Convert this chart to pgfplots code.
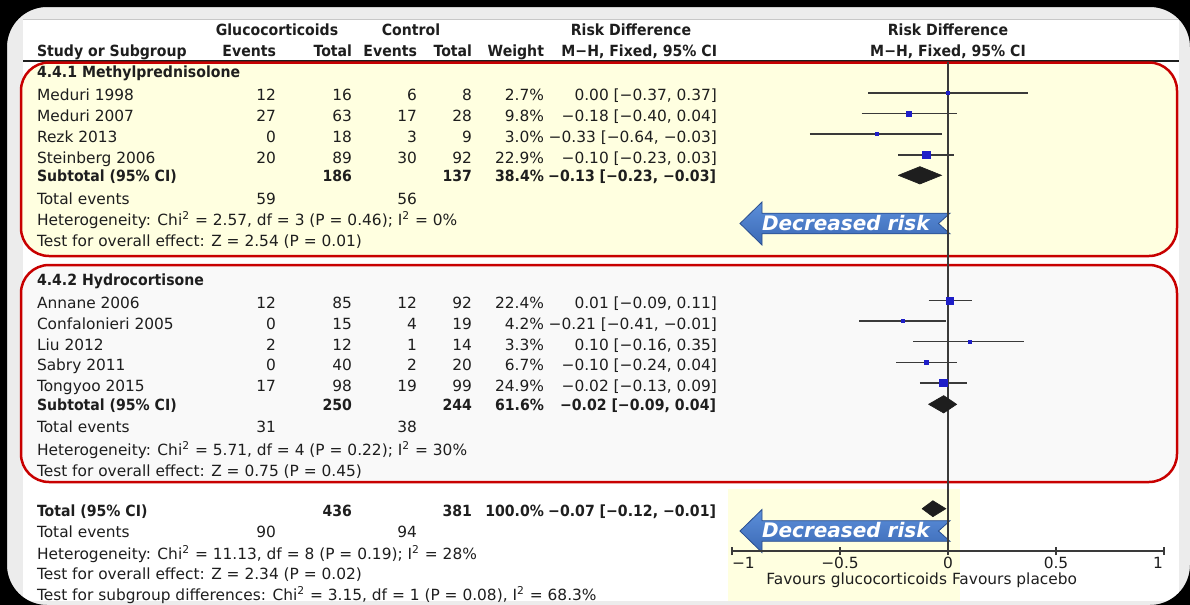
\documentclass[border=0pt]{standalone}
\usepackage{pgfplots}
\pgfplotsset{compat=1.18}
\usepackage{pgfplotstable}
\usepackage{fontspec}
\setmainfont{DejaVu Sans}[BoldFeatures={FakeStretch=0.915}]
\newfontfamily\arrowfont{DejaVu Sans}[BoldItalicFont={DejaVu Sans Bold Oblique}]
\definecolor{framegrey}{HTML}{ECECEC}
\definecolor{pyellow}{HTML}{FFFFE0}
\definecolor{pgrey}{HTML}{F9F9F9}
\definecolor{pred}{HTML}{C80000}
\definecolor{ink}{HTML}{1E1E1E}
\definecolor{ciline}{HTML}{3A3A3A}
\definecolor{sqblue}{HTML}{1E1EC8}
\definecolor{arrowtop}{HTML}{5C8FDA}
\definecolor{arrowbot}{HTML}{3B69B5}
\definecolor{arrowdraw}{HTML}{2A4E8E}

% study table: y = height above the scale line (px), rd, mark size (pt)
\pgfplotstableread{
y     rd     ms
458    0.00  0.75
437.5 -0.18  1.2
417   -0.33  0.75
396   -0.10  1.85
250.5  0.01  1.8
230   -0.21  0.85
209.5  0.10  0.75
188.5 -0.10  1.0
168   -0.02  1.9
}\studies

\newcommand{\TL}[3]{\node[anchor=base west] at (#1,#2) {#3};}
\newcommand{\TR}[3]{\node[anchor=base east] at (#1,#2) {#3};}
\newcommand{\TC}[3]{\node[anchor=base] at (#1,#2) {#3};}
\newcommand{\row}[8]{\TL{37}{#1}{#2}\TR{276}{#1}{#3}\TR{352}{#1}{#4}\TR{417}{#1}{#5}\TR{472}{#1}{#6}\TR{544}{#1}{#7}\TR{717}{#1}{#8}}
\newcommand{\decarrow}[1]{%
  \path[top color=arrowtop, bottom color=arrowbot, draw=arrowdraw, line width=0.4pt]
    (740,#1) -- (762,#1-21.5) -- (762,#1-10.3) -- (950,#1-10.3) -- (938.5,#1)
    -- (950,#1+10.3) -- (762,#1+10.3) -- (762,#1+21.5) -- cycle;
  \node[anchor=base west, text=white] at (762,#1+6.6)
    {\arrowfont\fontsize{10pt}{12pt}\selectfont\bfseries\itshape Decreased risk};
}

\begin{document}
\begin{tikzpicture}[every node/.style={inner sep=0pt, outer sep=0pt, text=ink, font=\fontsize{7.7pt}{9.2pt}\selectfont}]
\useasboundingbox (0,0) rectangle (595pt,-302.5pt);
\clip (0,0) rectangle (595pt,-302.5pt);

\begin{scope}[x=0.5pt,y=-0.5pt]
  \fill[black] (0,0) rectangle (1190,605);
  \fill[framegrey] (7,7) rectangle (1190,605);
  \fill[white] (23,20) rectangle (1179,601);
  \draw[black!22, line width=0.5pt] (23,19.5) -- (1179,19.5);
  \draw[ink, line width=0.6pt] (23,61) -- (1179,61);
  \filldraw[fill=pyellow, draw=pred, line width=1.25pt, rounded corners=14pt] (21,62.5) rectangle (1177,256);
  \filldraw[fill=pgrey, draw=pred, line width=1.25pt, rounded corners=14pt] (21,265) rectangle (1177,482);
  \fill[pyellow] (728,489) rectangle (960,601);
  \fill[black, even odd rule] (0,0) rectangle (1190,605) [rounded corners=20pt] (7,7) rectangle (1190,605);
  \decarrow{223.5}
  \decarrow{531}
\end{scope}

\begin{axis}[
  at={(366pt,-275.5pt)}, anchor=south west,
  scale only axis, width=216pt, height=275.5pt,
  xmin=-1, xmax=1, ymin=0, ymax=551, enlargelimits=false,
  axis x line*=bottom, axis y line=none,
  axis line style={draw=ciline, line width=0.75pt, -},
  xtick={-1,-0.5,0,0.5,1}, xticklabels={},
  tick align=center, major tick length=4pt,
  xtick style={draw=ciline, line width=0.75pt},
  clip=false,
]
  % line of no effect
  \addplot[ciline, line width=0.75pt, forget plot] coordinates {(0,489) (0,0)};
  % confidence intervals
  \addplot[ciline, line width=0.6pt] coordinates {(-0.37,458) (0.37,458)};
  \addplot[ciline, line width=0.6pt] coordinates {(-0.40,437.5) (0.04,437.5)};
  \addplot[ciline, line width=0.6pt] coordinates {(-0.64,417) (-0.03,417)};
  \addplot[ciline, line width=0.6pt] coordinates {(-0.23,396) (0.03,396)};
  \addplot[ciline, line width=0.6pt] coordinates {(-0.09,250.5) (0.11,250.5)};
  \addplot[ciline, line width=0.6pt] coordinates {(-0.41,230) (-0.01,230)};
  \addplot[ciline, line width=0.6pt] coordinates {(-0.16,209.5) (0.35,209.5)};
  \addplot[ciline, line width=0.6pt] coordinates {(-0.24,188.5) (0.04,188.5)};
  \addplot[ciline, line width=0.6pt] coordinates {(-0.13,168) (0.09,168)};
  % point estimates
  \addplot[scatter, only marks, mark=square*,
    scatter/use mapped color={draw=sqblue, fill=sqblue},
    visualization depends on={\thisrow{ms} \as \msz},
    scatter/@pre marker code/.append style={/tikz/mark size=\msz pt}]
    table[x=rd, y=y] {\studies};
  % pooled diamonds
  \addplot[fill=ink, draw=ink, line width=0.3pt] coordinates {(-0.23,375.7) (-0.13,384.4) (-0.03,375.7) (-0.13,367) (-0.23,375.7)};
  \addplot[fill=ink, draw=ink, line width=0.3pt] coordinates {(-0.09,146.7) (-0.02,155.4) (0.04,146.7) (-0.02,138) (-0.09,146.7)};
  \addplot[fill=ink, draw=ink, line width=0.3pt] coordinates {(-0.12,42.3) (-0.07,50.3) (-0.01,42.3) (-0.07,34.3) (-0.12,42.3)};
\end{axis}

\begin{scope}[x=0.5pt,y=-0.5pt]
  % headers
  \TC{277}{35.3}{\bfseries Glucocorticoids}
  \TC{411}{35.3}{\bfseries Control}
  \TC{631}{35.3}{\bfseries Risk Difference}
  \TC{948}{35.3}{\bfseries Risk Difference}
  \TL{37}{56}{\bfseries Study or Subgroup}
  \TR{276}{56}{\bfseries Events}
  \TR{352}{56}{\bfseries Total}
  \TR{417}{56}{\bfseries Events}
  \TR{472}{56}{\bfseries Total}
  \TR{544}{56}{\bfseries Weight}
  \TR{717}{56}{\bfseries M−H, Fixed, 95\% CI}
  \TC{948}{56}{\bfseries M−H, Fixed, 95\% CI}
  % subgroup 1
  \TL{37}{77}{\bfseries 4.4.1 Methylprednisolone}
  \row{100.7}{Meduri 1998}{12}{16}{6}{8}{2.7\%}{0.00 [−0.37, 0.37]}
  \row{121.3}{Meduri 2007}{27}{63}{17}{28}{9.8\%}{−0.18 [−0.40, 0.04]}
  \row{142}{Rezk 2013}{0}{18}{3}{9}{3.0\%}{−0.33 [−0.64, −0.03]}
  \row{163}{Steinberg 2006}{20}{89}{30}{92}{22.9\%}{−0.10 [−0.23, 0.03]}
  \TL{37}{181}{\bfseries Subtotal (95\% CI)}
  \TR{352}{181}{\bfseries 186}
  \TR{472}{181}{\bfseries 137}
  \TR{544}{181}{\bfseries 38.4\%}
  \TR{716}{181}{\bfseries −0.13 [−0.23, −0.03]}
  \TL{37}{204}{Total events}
  \TR{276}{204}{59}
  \TR{417}{204}{56}
  \TL{37}{225}{Heterogeneity: Chi\textsuperscript{2} = 2.57, df = 3 (P = 0.46); I\textsuperscript{2} = 0\%}
  \TL{37}{246}{Test for overall effect: Z = 2.54 (P = 0.01)}
  % subgroup 2
  \TL{37}{285}{\bfseries 4.4.2 Hydrocortisone}
  \row{308.3}{Annane 2006}{12}{85}{12}{92}{22.4\%}{0.01 [−0.09, 0.11]}
  \row{329}{Confalonieri 2005}{0}{15}{4}{19}{4.2\%}{−0.21 [−0.41, −0.01]}
  \row{350}{Liu 2012}{2}{12}{1}{14}{3.3\%}{0.10 [−0.16, 0.35]}
  \row{370.7}{Sabry 2011}{0}{40}{2}{20}{6.7\%}{−0.10 [−0.24, 0.04]}
  \row{391.7}{Tongyoo 2015}{17}{98}{19}{99}{24.9\%}{−0.02 [−0.13, 0.09]}
  \TL{37}{410}{\bfseries Subtotal (95\% CI)}
  \TR{352}{410}{\bfseries 250}
  \TR{472}{410}{\bfseries 244}
  \TR{544}{410}{\bfseries 61.6\%}
  \TR{716}{410}{\bfseries −0.02 [−0.09, 0.04]}
  \TL{37}{432.7}{Total events}
  \TR{276}{432.7}{31}
  \TR{417}{432.7}{38}
  \TL{37}{455}{Heterogeneity: Chi\textsuperscript{2} = 5.71, df = 4 (P = 0.22); I\textsuperscript{2} = 30\%}
  \TL{37}{476}{Test for overall effect: Z = 0.75 (P = 0.45)}
  % total
  \TL{37}{516.7}{\bfseries Total (95\% CI)}
  \TR{352}{516.7}{\bfseries 436}
  \TR{472}{516.7}{\bfseries 381}
  \TR{544}{516.7}{\bfseries 100.0\%}
  \TR{716}{516.7}{\bfseries −0.07 [−0.12, −0.01]}
  \TL{37}{537}{Total events}
  \TR{276}{537}{90}
  \TR{417}{537}{94}
  \TL{37}{559}{Heterogeneity: Chi\textsuperscript{2} = 11.13, df = 8 (P = 0.19); I\textsuperscript{2} = 28\%}
  \TL{37}{579}{Test for overall effect: Z = 2.34 (P = 0.02)}
  \TL{37}{600}{Test for subgroup differences: Chi\textsuperscript{2} = 3.15, df = 1 (P = 0.08), I\textsuperscript{2} = 68.3\%}
  % scale labels
  \TL{732}{568.7}{−1}
  \TC{840}{568.7}{−0.5}
  \TC{948}{568.7}{0}
  \TC{1056}{568.7}{0.5}
  \TR{1163}{568.7}{1}
  \TR{947}{584}{Favours glucocorticoids}
  \TL{952}{584}{Favours placebo}
\end{scope}
\end{tikzpicture}
\end{document}
